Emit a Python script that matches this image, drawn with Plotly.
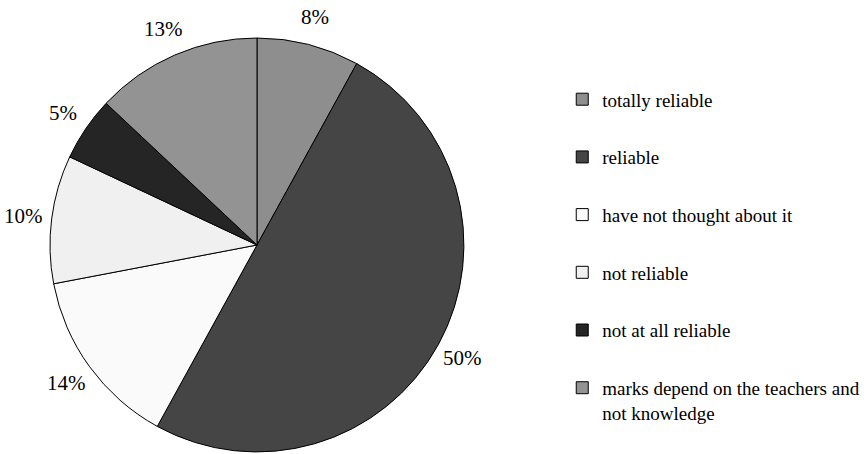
import math
import plotly.graph_objects as go

# Survey answers: how reliable are school marks?
categories = [
    "totally reliable",
    "reliable",
    "have not thought about it",
    "not reliable",
    "not at all reliable",
    "marks depend on the teachers and<br>not knowledge",
]
shares = [8, 50, 14, 10, 5, 13]
slice_colors = ["#8e8e8e", "#454545", "#fafafa", "#f0f0f0", "#252525", "#939393"]

FONT = "Liberation Serif, Times New Roman, serif"
W, H = 867, 454

# Pie geometry in pixels (paper has no margins)
CX, CY_TOP, R = 257, 245, 207
LABEL_R = 235

fig = go.Figure()

fig.add_trace(go.Pie(
    labels=categories,
    values=shares,
    sort=False,
    direction="clockwise",
    rotation=0,
    marker=dict(colors=slice_colors, line=dict(color="black", width=1)),
    textinfo="none",
    showlegend=False,
    hoverinfo="label+percent",
    domain=dict(x=[(CX - R) / W, (CX + R) / W],
                y=[(H - CY_TOP - R) / H, (H - CY_TOP + R) / H]),
))

# Percentage labels placed just outside each slice, at its middle angle
total = sum(shares)
cum = 0
for v in shares:
    mid = (cum + v / 2) / total * 2 * math.pi
    cum += v
    px = CX + LABEL_R * math.sin(mid)
    py = CY_TOP - LABEL_R * math.cos(mid)
    fig.add_annotation(
        x=px / W, y=(H - py) / H, xref="paper", yref="paper",
        text=f"{v}%", showarrow=False,
        xanchor="center", yanchor="middle",
        font=dict(family=FONT, size=21, color="black"),
    )

# Legend entries as square swatches, one group per category for spacing
for name, col in zip(categories, slice_colors):
    fig.add_trace(go.Scatter(
        x=[None], y=[None],
        mode="markers",
        name=name,
        legendgroup=name,
        marker=dict(symbol="square", size=12, color=col,
                    line=dict(color="black", width=1)),
        hoverinfo="skip",
    ))

fig.update_layout(
    width=W, height=H,
    margin=dict(l=0, r=0, t=0, b=0, autoexpand=False),
    paper_bgcolor="white",
    plot_bgcolor="white",
    xaxis=dict(visible=False),
    yaxis=dict(visible=False),
    font=dict(family=FONT, color="black"),
    legend=dict(
        x=0.6485, y=0.823, xanchor="left", yanchor="top",
        font=dict(family=FONT, size=19, color="black"),
        tracegroupgap=30,
        valign="top",
        itemwidth=30,
        bgcolor="rgba(0,0,0,0)",
    ),
)

fig.write_html("out.html")
